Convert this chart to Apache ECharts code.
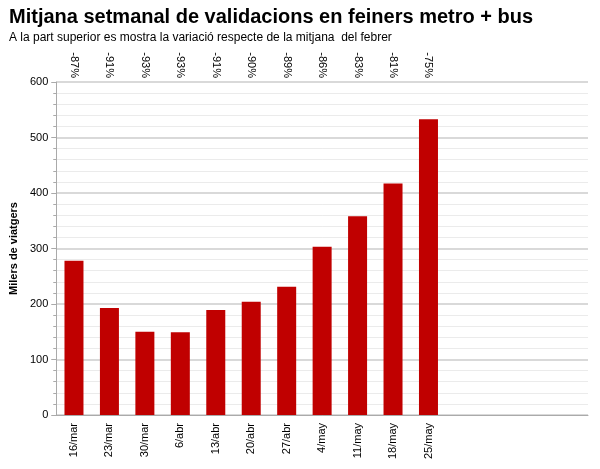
<!DOCTYPE html><html><head><meta charset="utf-8"><script src="https://cdn.jsdelivr.net/npm/echarts@6/dist/echarts.min.js"></script></head><body style="margin:0"><div id="c" style="width:600px;height:469px"></div><script>
const categories=['16/mar','23/mar','30/mar','6/abr','13/abr','20/abr','27/abr','4/may','11/may','18/may','25/may','','','',''];
const values=[278,193,150,149,189,204,231,303,358,417,533];
const topLabels=['-87%','-91%','-93%','-93%','-91%','-90%','-89%','-86%','-83%','-81%','-75%','','','',''];
const ch=echarts.init(document.getElementById('c'));
ch.setOption({animation:false,
title:[{text:'Mitjana setmanal de validacions en feiners metro + bus',left:4,top:2,textStyle:{fontFamily:'Liberation Sans',fontSize:20,fontWeight:'bold',color:'#000'}},
{text:'A la part superior es mostra la variació respecte de la mitjana  del febrer',left:4,top:27,textStyle:{fontFamily:'Liberation Sans',fontSize:12,fontWeight:'normal',color:'#000'}}],
grid:{left:51,right:12,top:82,bottom:54},
xAxis:[{type:'category',data:categories,axisLine:{lineStyle:{color:'#aaa'}},axisTick:{length:5,lineStyle:{color:'#aaa'}},axisLabel:{rotate:90,interval:0,color:'#000',fontFamily:'Liberation Sans',fontSize:11}},
{type:'category',position:'top',data:topLabels,axisLine:{show:false},axisTick:{show:false},axisLabel:{rotate:90,interval:0,color:'#000',fontFamily:'Liberation Sans',fontSize:11,margin:4}}],
yAxis:{type:'value',min:0,max:600,interval:100,name:'Milers de viatgers',nameLocation:'middle',nameGap:36,nameTextStyle:{fontWeight:'bold',fontSize:11,fontFamily:'Liberation Sans',color:'#000'},
axisLine:{show:true,lineStyle:{color:'#aaa'}},axisTick:{show:true,lineStyle:{color:'#aaa'}},minorTick:{show:true,splitNumber:5,lineStyle:{color:'#aaa'}},
axisLabel:{color:'#000',fontFamily:'Liberation Sans',fontSize:11},splitLine:{lineStyle:{color:'#ccc',width:1.5}},minorSplitLine:{show:true,lineStyle:{color:'#ebebeb'}}},
series:[{type:'bar',data:values,barWidth:19,itemStyle:{color:'#c00000'}}]});
</script></body></html>
